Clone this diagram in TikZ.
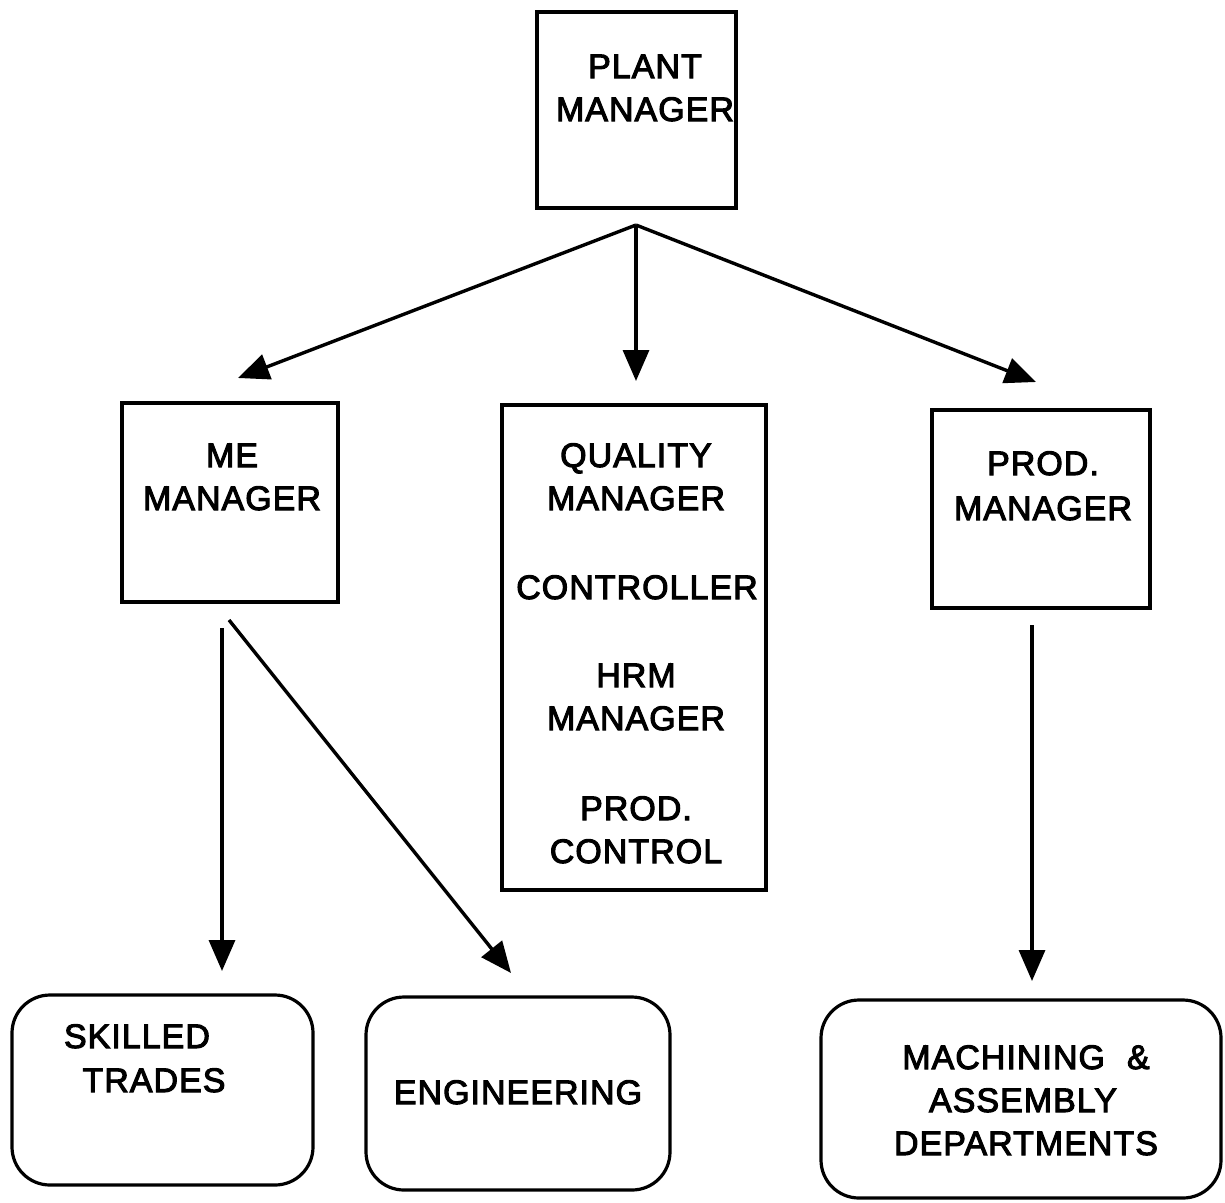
\documentclass[tikz,border=0pt]{standalone}
\usepackage{fontspec}
\setmainfont{Liberation Sans}[FakeBold=3,LetterSpace=3]
\usetikzlibrary{arrows.meta}
\begin{document}
\begin{tikzpicture}[x=1pt,y=-1pt,
  box/.style={draw,line width=3.2pt,inner sep=0pt},
  rbox/.style={box,rounded corners=38pt},
  lbl/.style={anchor=base,inner sep=0pt,font=\fontsize{34}{43}\selectfont},
  link/.style={line width=3.4pt,-{Triangle[length=31pt,width=26pt]}}]
\useasboundingbox (0,0) rectangle (1225,1202);

% boxes
\node[box,minimum width=199pt,minimum height=196pt] (plant) at (636.5,110) {};
\node[box,minimum width=216pt,minimum height=199pt] (me) at (230,502.5) {};
\node[box,minimum width=264pt,minimum height=485pt] (qual) at (634,647.5) {};
\node[box,minimum width=218pt,minimum height=198pt] (prod) at (1041,509) {};
\node[rbox,minimum width=301pt,minimum height=190pt] (skill) at (162.5,1090) {};
\node[rbox,minimum width=304pt,minimum height=193pt] (eng) at (518,1093.5) {};
\node[rbox,minimum width=400pt,minimum height=198pt] (mach) at (1021,1099) {};

% labels
\node[lbl] (plant1) at (645,78) {PLANT};
\node[lbl] (plant2) at (645,121) {MANAGER};
\node[lbl] (me1) at (232,467) {ME};
\node[lbl] (me2) at (232,510) {MANAGER};
\node[lbl] (q1) at (636,467) {QUALITY};
\node[lbl] (q2) at (636,510) {MANAGER};
\node[lbl] (q3) at (637,599) {CONTROLLER};
\node[lbl] (q4) at (636,687) {HRM};
\node[lbl] (q5) at (636,730) {MANAGER};
\node[lbl] (q6) at (636,820) {PROD.};
\node[lbl] (q7) at (636,863) {CONTROL};
\node[lbl] (p1) at (1043,475) {PROD.};
\node[lbl] (p2) at (1043,520) {MANAGER};
\node[lbl] (s1) at (137,1048) {SKILLED};
\node[lbl] (s2) at (154,1092) {TRADES};
\node[lbl] (e1) at (518,1104) {ENGINEERING};
\node[lbl] (m1) at (1026,1069) {MACHINING\hspace{22pt}\&};
\node[lbl] (m2) at (1023,1112) {ASSEMBLY};
\node[lbl] (m3) at (1026,1155) {DEPARTMENTS};

% connector end points
\coordinate (fork) at (636,225);
\coordinate (tipL) at (238,378);
\coordinate (tipM) at (636,381);
\coordinate (tipR) at (1036,382);
\coordinate (meV) at (222,628);
\coordinate (meD) at (229,620);
\coordinate (tipS) at (222,971);
\coordinate (tipE) at (511,973);
\coordinate (prV) at (1032,625);
\coordinate (tipP) at (1032,981);

% connectors
\draw[link] (fork) -- (tipL);
\draw[link] (fork) -- (tipM);
\draw[link] (fork) -- (tipR);
\draw[link] (meV) -- (tipS);
\draw[link] (meD) -- (tipE);
\draw[link] (prV) -- (tipP);
\end{tikzpicture}
\end{document}
